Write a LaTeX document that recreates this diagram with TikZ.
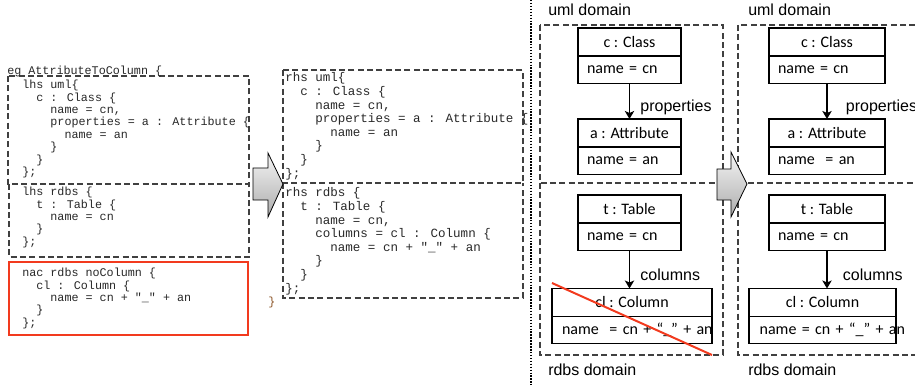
\documentclass[tikz,border=0pt]{standalone}
\usepackage{fontspec}
\setmainfont{Liberation Sans}
\newfontfamily\codefont{Liberation Mono}
\newfontfamily\boxfont{Carlito}
\usetikzlibrary{positioning,arrows.meta}
\definecolor{nacred}{RGB}{242,58,30}
\definecolor{codegray}{RGB}{40,40,40}
\definecolor{bracebrown}{RGB}{140,85,40}
\newcommand{\cin}{\phantom{xx}}
\tikzset{
	%code listings
	codetxt/.style = {anchor=north west, align=left, inner sep=0pt, text=codegray,
	                  font=\codefont\fontsize{8.8}{9.3}\selectfont},
	codebig/.style = {codetxt, font=\codefont\fontsize{9.4}{10.2}\selectfont},
	%frames
	dashbox/.style = {draw=black!75, dash pattern=on 4.5pt off 2.5pt, line width=0.8pt},
	nacbox/.style = {draw=nacred, line width=1.5pt},
	divider/.style = {draw=black, line width=1.6pt, dash pattern=on 1.1pt off 1.1pt},
	bigarrow/.style = {top color=gray!8, bottom color=gray!65, draw=black, line width=0.6pt},
	%object boxes
	umlbox/.style = {draw=black, line width=0.9pt, outer sep=0pt, inner ysep=0pt,
	                 font=\boxfont\fontsize{12}{14}\selectfont},
	umltitle/.style = {umlbox, minimum width=#1, minimum height=21pt},
	umlslot/.style = {umlbox, text width=#1, align=left, inner xsep=6.75pt, minimum height=20.5pt},
	link/.style = {-{Stealth[length=6pt, width=7pt, inset=1.5pt]}, line width=1.4pt},
	linklabel/.style = {pos=0.8, anchor=base west, inner sep=0pt, xshift=7.5pt,
	                    font=\fontsize{12}{14}\selectfont},
	domlabel/.style = {anchor=base west, inner sep=0pt, font=\fontsize{12}{14}\selectfont},
	strike/.style = {draw=nacred, line width=1.5pt}
}

\begin{document}
\begin{tikzpicture}[x=0.75pt, y=-0.75pt]
	\useasboundingbox (0,0) rectangle (915,385);
	\clip (0,0) rectangle (915,385);
	%frames of the code
	\draw[dashbox] (8,76) rectangle (249,184);
	\draw[dashbox] (9,184) -- (9,257) -- (249,257) -- (249,184);
	\draw[nacbox]  (9,262) rectangle (248,335);
	\draw[dashbox] (283,70) rectangle (523,183);
	\draw[dashbox] (283,183) -- (283,298) -- (523,298) -- (523,183);
	%code
	\node[codetxt, anchor=base west] (eg) at (7,75) {eg AttributeToColumn \{};
	\node[codetxt] (lhsuml) at (22,80) {lhs uml\{\\
		\cin c : Class \{\\
		\cin\cin name = cn,\\
		\cin\cin properties = a : Attribute \{\\
		\cin\cin\cin name = an\\
		\cin\cin \}\\
		\cin \}\\
		\};};
	\node[codetxt] (lhsrdbs) at (22,187) {lhs rdbs \{\\
		\cin t : Table \{\\
		\cin\cin name = cn\\
		\cin \}\\
		\};};
	\node[codetxt] (nac) at (22,268) {nac rdbs noColumn \{\\
		\cin cl : Column \{\\
		\cin\cin name = cn + "\_" + an\\
		\cin \}\\
		\};};
	\node[codebig] (rhsuml) at (285,72.5) {rhs uml\{\\
		\cin c : Class \{\\
		\cin\cin name = cn,\\
		\cin\cin properties = a : Attribute \{\\
		\cin\cin\cin name = an\\
		\cin\cin \}\\
		\cin \}\\
		\};};
	\node[codebig] (rhsrdbs) at (285,187.5) {rhs rdbs \{\\
		\cin t : Table \{\\
		\cin\cin name = cn,\\
		\cin\cin columns = cl : Column \{\\
		\cin\cin\cin name = cn + "\_" + an\\
		\cin\cin \}\\
		\cin \}\\
		\};};
	\node[codetxt, anchor=center, text=bracebrown] (egend) at (272,302) {\}};
	%domains
	\draw[divider] (531,0) -- (531,385);
	\draw[dashbox] (540,25) rectangle (723,183);
	\draw[dashbox] (540,183) -- (540,355) -- (723,355) -- (723,183);
	\draw[dashbox] (738,25) rectangle (930,183);
	\draw[dashbox] (738,183) -- (738,355) -- (930,355);
	\node[domlabel] (uml1)  at (548,16)  {uml domain};
	\node[domlabel] (rdbs1) at (548,375) {rdbs domain};
	\node[domlabel] (uml2)  at (748,16)  {uml domain};
	\node[domlabel] (rdbs2) at (748,375) {rdbs domain};
	%left graph
	\node[umltitle=77.25pt] (c) at (629.5,42) {c : Class};
	\node[umlslot=63.75pt, below=0pt of c] (cattr) {name = cn};
	\node[umltitle=77.25pt] (a) at (629.5,133) {a : Attribute};
	\node[umlslot=63.75pt, below=0pt of a] (aattr) {name = an};
	\node[umltitle=77.25pt] (t) at (629.5,209) {t : Table};
	\node[umlslot=63.75pt, below=0pt of t] (tattr) {name = cn};
	\node[umltitle=120pt] (cl) at (632,302.5) {cl : Column};
	\node[umlslot=105pt, inner xsep=7.5pt, below=0pt of cl] (clattr) {\mbox{name~~= cn + “\_” + an}};
	%right graph
	\node[umltitle=87pt] (c2) at (827,42) {c : Class};
	\node[umlslot=73.5pt, below=0pt of c2] (c2attr) {name = cn};
	\node[umltitle=87pt] (a2) at (827,133) {a : Attribute};
	\node[umlslot=73.5pt, below=0pt of a2] (a2attr) {name~~= an};
	\node[umltitle=87pt] (t2) at (827,209) {t : Table};
	\node[umlslot=73.5pt, below=0pt of t2] (t2attr) {name = cn};
	\node[umltitle=110.25pt] (cl2) at (822.5,302.5) {cl : Column};
	\node[umlslot=94.25pt, inner xsep=8pt, below=0pt of cl2] (cl2attr) {\mbox{name = cn + “\_” + an}};
	%arrows
	\draw[link] (cattr) -- node[linklabel] {properties} (a);
	\draw[link] (tattr) -- node[linklabel] {columns} (tattr |- cl.north);
	\draw[link] (c2attr) -- node[linklabel, xshift=6pt] {properties} (a2);
	\draw[link] (t2attr) -- node[linklabel, xshift=3.75pt] {columns} (t2attr |- cl2.north);
	%negative application condition
	\coordinate (strikeA) at (552,283);
	\coordinate (strikeB) at (712,355);
	\draw[strike] (strikeA) -- (strikeB);
	%transformation arrows
	\path[bigarrow] (253,168) -- (268,168) -- (268,153) -- (283,184) -- (268,217)
	                -- (268,200) -- (253,200) -- cycle;
	\path[bigarrow] (717,169) -- (731,169) -- (731,152) -- (747,184) -- (731,217)
	                -- (731,200) -- (717,200) -- cycle;
\end{tikzpicture}
\end{document}
